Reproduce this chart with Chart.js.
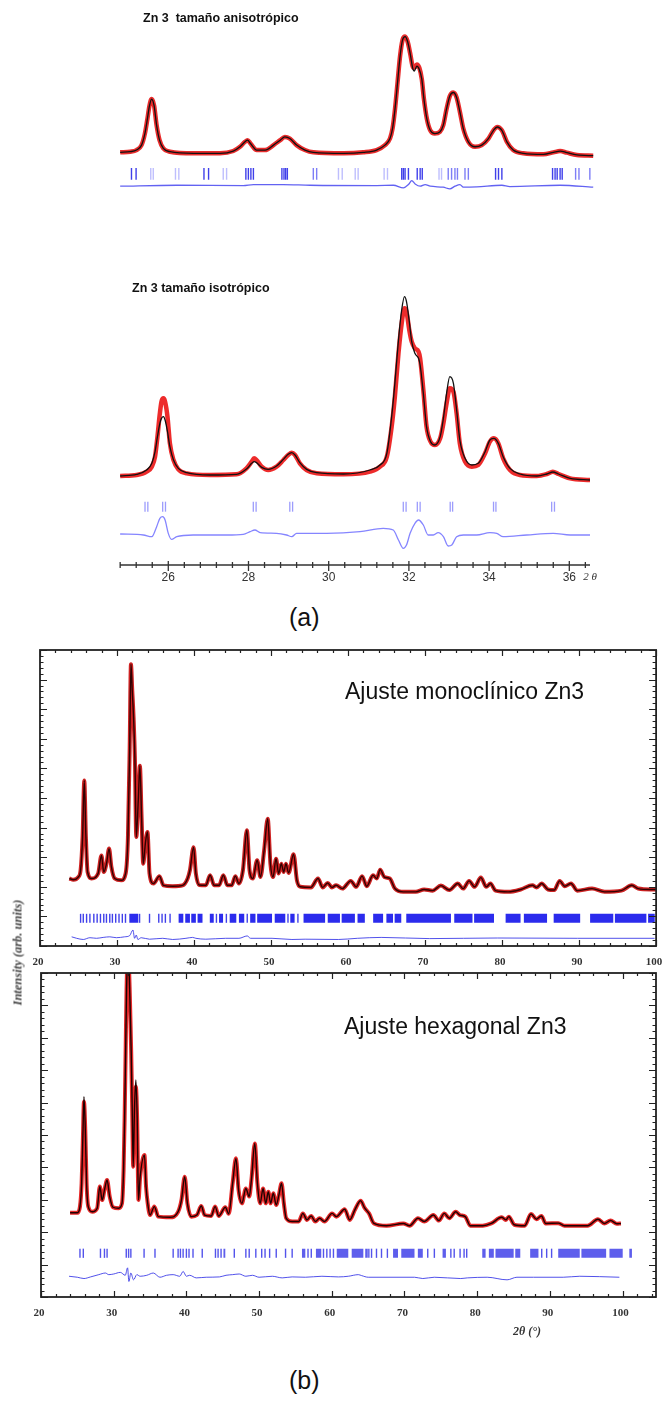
<!DOCTYPE html>
<html>
<head>
<meta charset="utf-8">
<script src="https://cdn.jsdelivr.net/npm/chart.js@4.4.1/dist/chart.umd.min.js"></script>
<style>
  body { margin: 0; background: #fff; }
  #wrap { position: relative; width: 662px; height: 1401px; background: #fff; overflow: hidden; }
  canvas { position: absolute; }
  .t { position: absolute; line-height: 1; white-space: pre; }
</style>
</head>
<body>
<div id="wrap">
  <canvas id="a1" style="left:110px;top:0px" width="500" height="200"></canvas>
  <canvas id="a2" style="left:110px;top:270px" width="500" height="325"></canvas>
  <canvas id="mono" style="left:0px;top:640px" width="662" height="335"></canvas>
  <canvas id="hex" style="left:0px;top:965px" width="662" height="385"></canvas>

  <div class="t" style="left:143px;top:11px;font:bold 12.5px 'Liberation Sans',Arial;color:#111">Zn 3  tamaño anisotrópico</div>
  <div class="t" style="left:132px;top:281px;font:bold 12.5px 'Liberation Sans',Arial;color:#111">Zn 3 tamaño isotrópico</div>
  <div class="t" style="left:289px;top:603px;font:25px 'Liberation Sans',Arial;color:#111">(a)</div>
  <div class="t" style="left:345px;top:678px;font:23px 'Liberation Sans',Arial;color:#111">Ajuste monoclínico Zn3</div>
  <div class="t" style="left:344px;top:1013px;font:23px 'Liberation Sans',Arial;color:#111">Ajuste hexagonal Zn3</div>
  <div class="t" style="left:513px;top:1324px;font:bold italic 12px 'Liberation Serif',serif;color:#333">2θ (°)</div>
  <div class="t" style="left:-47px;top:945px;width:130px;text-align:center;transform:rotate(-90deg);font:bold italic 12.5px 'Liberation Serif',serif;color:#444">Intensity (arb. units)</div>
  <div class="t" style="left:289px;top:1366px;font:25px 'Liberation Sans',Arial;color:#111">(b)</div>
</div>

<script>
// ---- (a) top: anisotropic size ----
const a1X = [25.11,25.35,25.50,25.62,25.70,25.76,25.81,25.86,25.92,25.98,26.05,26.14,26.30,26.86,27.49,27.81,27.97,28.09,28.15,28.22,
  28.37,28.57,28.77,28.93,29.04,29.16,29.32,29.52,29.72,30.44,30.91,31.23,31.43,31.55,31.61,31.67,31.73,31.79,31.85,31.91,
  31.97,32.03,32.09,32.13,32.19,32.25,32.31,32.36,32.43,32.51,32.62,32.74,32.82,32.90,32.98,33.06,33.14,33.22,33.30,33.42,
  33.58,33.74,33.90,34.02,34.11,34.22,34.34,34.49,34.73,35.21,35.45,35.61,35.77,36.01,36.40];
const a1Obs = [130,150,200,350,700,1150,1550,1750,1550,950,500,250,150,100,100,170,300,450,500,400,
  200,200,350,500,600,550,350,200,130,100,130,200,350,550,850,1450,2250,3050,3550,3650,
  3500,3150,2750,2700,2800,2700,2350,1750,1150,800,700,750,950,1450,1850,1950,1800,1350,850,450,
  300,350,550,800,900,800,450,200,100,70,130,170,120,50,30];
const a1Calc = [130,150,200,350,700,1150,1550,1750,1550,950,500,250,150,100,100,170,300,450,500,400,
  200,200,350,500,600,550,350,200,130,100,130,200,350,550,850,1450,2250,3050,3550,3650,
  3500,3150,2700,2600,2750,2650,2350,1750,1150,800,700,750,950,1450,1850,1950,1800,1350,850,450,
  300,350,550,800,900,800,450,200,100,70,130,170,120,50,30];
const a1DiffX = [25.11,26.46,28.05,28.29,29.00,29.64,31.23,31.63,31.87,31.99,32.07,32.15,32.27,32.39,32.51,32.82,32.98,33.10,33.22,33.30,
  33.62,34.22,34.41,35.61,36.40];
const a1Diff = [-900,-870,-880,-850,-850,-870,-880,-870,-950,-850,-730,-830,-900,-850,-900,-930,-980,-900,-850,-930,
  -920,-870,-910,-870,-930];
const a1TickDark = [25.38,25.49,27.11,27.22,28.11,28.17,28.23,28.29,28.97,29.02,29.06,29.10,31.83,31.87,31.91,31.99,32.20,32.27,32.32,
  34.07,34.14,34.22,35.43,35.49,35.54,35.61,35.66];
const a1TickMid = [29.72,29.80,32.94,33.02,33.10,33.16,33.34,33.42,35.98,36.06,36.32];
const a1TickLight = [25.84,25.90,26.43,26.51,27.57,27.65,30.32,30.41,30.72,30.79,31.41,31.49,32.72,32.78];

// ---- (a) bottom: isotropic size ----
const a2X = [24.80,25.21,25.46,25.59,25.67,25.73,25.79,25.83,25.88,25.92,25.98,26.04,26.13,26.25,26.46,27.04,27.70,27.95,28.08,28.14,
  28.20,28.33,28.49,28.70,28.87,28.99,29.08,29.16,29.28,29.45,29.70,30.37,31.03,31.28,31.45,31.57,31.65,31.74,31.82,31.89,
  31.94,32.01,32.07,32.15,32.24,32.28,32.36,32.44,32.54,32.65,32.78,32.86,32.94,33.02,33.11,33.19,33.27,33.40,33.57,33.73,
  33.90,34.02,34.12,34.23,34.35,34.52,34.77,35.19,35.44,35.59,35.73,36.02,36.52];
const a2Obs = [320,350,450,600,900,1500,2200,2550,2650,2550,2100,1300,800,520,400,350,370,550,750,850,
  800,600,500,600,800,950,1020,950,700,500,400,370,450,600,900,1800,2700,4000,4900,5350,
  5250,4700,4350,4150,4050,3850,2900,1800,1350,1250,1450,1900,2500,2950,2850,2200,1300,750,600,650,
  1000,1350,1450,1300,850,500,350,320,380,450,380,250,200];
const a2Calc = [320,370,500,700,1050,1500,1900,2050,2100,2000,1650,1200,800,550,420,350,370,530,700,750,
  720,580,520,620,820,970,1020,950,720,520,420,380,500,650,1000,2100,3100,4400,5300,5700,
  5550,4950,4350,4000,3850,3650,2800,1800,1350,1250,1500,2050,2800,3300,3100,2300,1400,850,650,700,
  1050,1400,1450,1300,900,550,380,320,380,440,380,250,200];
const a2DiffX = [24.80,25.38,25.59,25.71,25.79,25.86,25.92,26.00,26.08,26.21,26.62,27.46,27.87,28.04,28.16,28.29,28.70,28.95,29.08,29.20,
  29.95,30.78,31.36,31.61,31.74,31.86,31.94,32.03,32.15,32.24,32.36,32.48,32.61,32.73,32.86,32.98,33.07,33.19,33.36,33.69,
  34.02,34.19,34.35,34.94,35.60,36.02,36.52];
const a2Diff = [-1420,-1450,-1500,-1200,-950,-900,-1000,-1400,-1580,-1500,-1450,-1450,-1430,-1350,-1300,-1380,-1400,-1450,-1500,-1400,
  -1400,-1350,-1250,-1300,-1600,-1850,-1750,-1400,-1100,-1000,-1150,-1450,-1450,-1380,-1500,-1780,-1750,-1500,-1450,-1450,
  -1380,-1400,-1500,-1450,-1400,-1450,-1450];
const a2Ticks = [25.42,25.49,25.86,25.93,28.12,28.19,29.03,29.10,31.86,31.93,32.21,32.28,33.03,33.09,34.11,34.17,35.56,35.63];
const a2TickValues = [26, 28, 30, 32, 34, 36];
const a2TickLabels = ['26', '28', '30', '32', '34', '36'];

// ---- (b) monoclinic fit ----
const monoX = [23.81,24.33,24.97,25.27,25.53,25.75,25.96,26.18,26.69,27.55,27.98,28.28,28.63,28.97,29.27,29.70,30.56,31.12,31.42,31.64,
  31.81,31.98,32.15,32.33,32.50,32.76,32.97,33.19,33.40,33.70,33.96,34.22,34.74,35.51,36.03,37.23,38.52,39.17,39.47,39.94,
  40.24,40.67,41.53,42.09,42.61,43.25,43.81,44.33,44.89,45.36,45.83,46.35,46.86,47.21,47.64,48.20,48.63,49.10,49.57,49.92,
  50.26,50.65,50.99,51.34,51.64,51.94,52.28,52.93,53.36,53.82,55.18,56.10,56.70,57.36,57.90,58.45,59.26,60.35,61.06,61.82,
  62.43,63.24,63.73,64.17,64.71,65.42,66.08,67.16,68.80,69.88,70.98,72.06,73.15,74.25,74.95,75.72,76.43,77.24,77.95,78.49,
  79.15,80.79,82.42,83.94,84.49,85.14,85.96,86.77,87.48,88.13,88.95,89.77,91.68,93.31,95.49,96.85,97.67,99.30,100.0];
const monoI = [2.28,2.24,2.33,2.56,3.68,5.59,3.68,2.50,2.28,2.45,3.06,2.50,2.78,3.29,2.67,2.28,2.22,2.45,3.68,6.60,
  9.52,8.62,7.72,6.26,3.68,4.92,6.09,4.35,2.78,3.51,3.85,2.45,2.11,2.36,2.05,2.02,2.05,2.28,2.56,3.34,
  2.45,2.06,2.05,2.39,2.05,2.05,2.39,2.05,2.05,2.36,2.11,2.56,3.91,2.56,2.28,2.90,2.33,3.23,4.30,2.78,
  2.33,2.95,2.45,2.78,2.50,2.78,2.47,3.10,2.22,2.00,1.98,2.28,1.98,2.13,1.98,2.05,1.94,2.20,2.00,2.36,
  2.02,2.39,2.28,2.58,2.33,2.28,1.94,1.83,1.83,1.91,1.87,2.04,1.89,2.11,1.94,2.20,2.00,2.31,2.00,2.11,
  1.87,1.83,1.91,2.05,1.98,2.11,1.91,1.89,2.20,2.02,2.11,1.87,1.94,1.83,1.87,2.05,1.94,1.91,1.91];
const monoDiffX = [24.11,24.76,25.62,26.48,27.34,28.20,29.06,29.92,30.99,31.64,32.07,32.28,32.50,32.71,33.14,34.22,35.94,37.23,38.95,39.81,
  40.24,41.53,44.11,45.83,46.91,47.34,50.13,52.71,54.43,58.74,61.2,64.3,70.6,79.4,89.8,99.8];
const monoDiff = [0.31,0.26,0.22,0.28,0.26,0.29,0.31,0.28,0.31,0.35,0.54,0.26,0.37,0.22,0.28,0.23,0.26,0.22,0.26,0.29,
  0.26,0.23,0.26,0.26,0.34,0.26,0.26,0.22,0.23,0.22,0.26,0.29,0.25,0.27,0.26,0.26];
const monoTicks = [25.27,25.62,26.05,26.48,26.99,27.42,27.85,28.28,28.63,29.06,29.40,29.83,30.26,30.69,31.10,32.93,34.22,
  35.42,35.85,36.28,36.89,42.91,44.20,46.91,52.20,53.49];
const monoBlockStart = [31.6,38.0,38.86,39.64,40.46,42.05,43.25,44.63,45.83,47.29,48.20,50.48,52.50,54.22,57.36,59.17,61.23,63.26,64.98,66.05,
  67.56,73.79,76.37,80.46,82.83,86.70,91.43,94.65,98.96];
const monoBlockEnd = [32.76,38.61,39.47,40.24,41.10,42.56,43.77,45.49,46.52,47.98,50.13,51.85,53.06,57.02,58.95,60.89,62.18,64.55,65.84,66.91,
  73.36,76.16,78.95,82.40,85.84,90.14,94.44,98.74,99.82];

// ---- (b) hexagonal fit ----
const hexX = [24.0,25.0,25.36,25.59,25.77,25.91,26.09,26.27,26.5,27.05,27.73,28.09,28.41,28.73,29.09,29.45,29.91,30.68,31.14,31.36,
  31.5,31.64,31.77,31.91,32.09,32.27,32.41,32.55,32.68,32.86,33.05,33.23,33.41,33.64,34.23,34.45,34.68,35.0,35.59,36.14,
  37.73,38.86,39.32,39.77,40.14,40.68,41.45,42.05,42.5,43.41,43.95,44.45,45.36,45.82,46.36,46.82,47.18,47.64,48.18,48.64,
  48.95,49.41,49.77,50.14,50.55,50.91,51.27,51.59,51.95,52.36,52.73,53.09,53.41,53.73,54.55,55.45,56.02,56.59,57.16,57.74,
  58.32,59.0,60.04,60.63,61.77,62.47,63.22,63.96,64.54,65.12,65.81,67.53,69.84,70.70,71.86,72.71,73.98,74.73,75.48,76.17,
  77.04,77.61,78.36,79.06,80.78,81.94,83.37,83.94,84.35,85.1,86.53,87.41,88.16,88.84,89.43,91.15,92.01,95.18,96.62,97.49,
  98.35,99.21,99.78];
const hexObs = [2.60,2.60,2.79,3.51,4.95,6.03,5.15,3.51,2.79,2.63,2.74,3.41,2.99,3.30,3.61,3.10,2.77,2.74,2.89,3.92,
  5.46,7.52,9.48,10.4,10.2,8.86,7.52,5.77,4.02,5.67,6.49,5.46,2.99,3.71,4.38,3.41,2.89,2.53,2.79,2.48,
  2.46,2.63,2.99,3.71,2.89,2.48,2.53,2.81,2.53,2.50,2.79,2.50,2.77,2.57,3.51,4.28,3.30,2.89,3.35,3.10,
  3.62,4.74,3.51,2.89,3.35,2.89,3.25,2.89,3.20,2.84,3.15,3.51,2.89,2.43,2.33,2.33,2.58,2.38,2.50,2.33,
  2.43,2.33,2.58,2.48,2.71,2.38,2.71,2.97,2.74,2.58,2.27,2.20,2.27,2.20,2.43,2.33,2.53,2.36,2.58,2.43,
  2.63,2.53,2.48,2.20,2.20,2.27,2.46,2.38,2.48,2.23,2.20,2.56,2.40,2.50,2.27,2.28,2.20,2.20,2.40,2.27,
  2.36,2.26,2.27];
const hexCalc = [2.60,2.60,2.79,3.51,5.05,6.18,5.20,3.51,2.79,2.63,2.74,3.41,2.99,3.30,3.61,3.10,2.77,2.74,2.89,3.92,
  5.46,7.52,9.48,10.4,10.2,8.86,7.52,5.77,4.02,5.80,6.70,5.55,2.99,3.71,4.38,3.41,2.89,2.53,2.79,2.48,
  2.46,2.63,2.99,3.71,2.89,2.48,2.53,2.81,2.53,2.50,2.79,2.50,2.77,2.57,3.51,4.28,3.30,2.89,3.35,3.10,
  3.62,4.74,3.51,2.89,3.35,2.89,3.25,2.89,3.20,2.84,3.15,3.51,2.89,2.43,2.33,2.33,2.58,2.38,2.50,2.33,
  2.43,2.33,2.58,2.48,2.71,2.38,2.71,2.97,2.74,2.58,2.27,2.20,2.27,2.20,2.43,2.33,2.53,2.36,2.58,2.43,
  2.63,2.53,2.48,2.20,2.20,2.27,2.46,2.38,2.48,2.23,2.20,2.56,2.40,2.50,2.27,2.28,2.20,2.20,2.40,2.27,
  2.36,2.26,2.27];
const hexDiffX = [23.86,25.0,25.91,26.82,27.95,28.86,29.32,30.0,30.91,31.59,31.91,32.09,32.36,32.73,33.18,33.64,34.55,35.45,36.36,37.27,
  38.18,39.09,39.55,40.0,40.45,41.36,42.73,44.55,45.45,46.36,47.27,48.18,49.09,50.0,51.82,53.18,54.55,56.36,58.64,60.91,
  62.27,63.65,64.11,65.02,71.38,72.52,74.11,77.74,78.65,81.38,84.11,85.47,87.74,91.84,94.11,99.56];
const hexDiff = [0.64,0.61,0.57,0.62,0.69,0.74,0.69,0.71,0.76,0.67,0.90,0.48,0.74,0.53,0.69,0.64,0.67,0.74,0.61,0.67,
  0.69,0.64,0.79,0.64,0.67,0.59,0.61,0.62,0.67,0.69,0.71,0.64,0.67,0.61,0.64,0.59,0.62,0.61,0.64,0.62,
  0.64,0.69,0.66,0.61,0.61,0.57,0.61,0.57,0.59,0.61,0.53,0.61,0.61,0.61,0.64,0.61];
const hexTicks = [25.36,25.82,28.18,28.73,29.09,31.73,32.05,32.36,34.18,35.68,38.18,38.86,39.18,39.55,40.0,40.36,40.91,42.18,44.0,44.36,
  44.77,46.59,48.18,48.64,49.55,50.36,50.82,51.45,52.36,53.64,54.55,56.73,57.18,58.86,59.32,59.77,60.23,65.1,65.47,66.15,
  66.84,67.65,73.2,74.11,76.38,76.84,77.65,78.2,78.56,88.88,89.56,90.24];
const hexBlockStart = [45.1,55.9,57.82,60.68,62.74,64.6,68.43,69.56,71.84,75.24,80.7,81.61,82.52,85.24,87.29,91.15,94.34,98.2,100.93];
const hexBlockEnd = [45.35,56.36,58.55,62.27,64.34,64.95,69.11,71.38,72.52,75.7,81.16,82.29,85.02,85.93,88.43,94.11,97.74,100.02,101.29];

const bTickValues = [20, 30, 40, 50, 60, 70, 80, 90, 100];
const bTickLabels = ['20', '30', '40', '50', '60', '70', '80', '90', '100'];

// ---- helpers ----
const pts = (xs, ys) => xs.map((x, i) => ({ x, y: ys[i] }));
const row = (xs, y) => xs.map(x => ({ x, y }));
const blockPts = (s, e, y) => s.flatMap((v, i) => [{ x: v, y }, { x: e[i], y }, { x: e[i], y: null }]);

function curve(data, color, width) {
  return { data, borderColor: color, borderWidth: width, pointRadius: 0, cubicInterpolationMode: 'monotone', fill: false };
}
function ticks(data, color, r, w) {
  return { data, showLine: false, pointStyle: 'line', rotation: 90, pointRadius: r,
    pointBorderColor: color, pointBorderWidth: w, borderColor: color, borderWidth: w };
}
function blocks(data, color, h) {
  return { data, borderColor: color, borderWidth: h, pointRadius: 0, spanGaps: false, borderCapStyle: 'butt' };
}

// frame / axis decoration drawn through the chart scales
const decor = {
  id: 'decor',
  afterDraw(chart, args, o) {
    const { ctx, chartArea: a, scales: { x, y } } = chart;
    ctx.save();
    if (o.axis) {
      const ax = o.axis;
      const yb = a.bottom;
      ctx.strokeStyle = '#333';
      ctx.lineWidth = 1.3;
      ctx.beginPath();
      ctx.moveTo(a.left, yb); ctx.lineTo(a.right, yb);
      for (let v = ax.minorStart; v <= x.max + 1e-6; v += ax.minorStep) {
        const px = x.getPixelForValue(v);
        ctx.moveTo(px, yb - 3); ctx.lineTo(px, yb + 3);
      }
      ax.values.forEach(v => {
        const px = x.getPixelForValue(v);
        ctx.moveTo(px, yb - 4); ctx.lineTo(px, yb + 6);
      });
      ctx.stroke();
      ctx.fillStyle = '#333';
      ctx.font = '12px "Liberation Sans", Arial';
      ctx.textAlign = 'center';
      ctx.textBaseline = 'middle';
      ax.values.forEach((v, i) => ctx.fillText(ax.labels[i], x.getPixelForValue(v), yb + 13));
      ctx.font = 'italic 11px "Liberation Serif", serif';
      ctx.fillText('2 θ', a.right, yb + 12);
    }
    if (o.frame) {
      const f = o.frame;
      ctx.strokeStyle = '#222';
      ctx.lineWidth = 1.2;
      ctx.beginPath();
      for (let v = x.min; v <= x.max; v += f.xMinor) {
        const px = Math.round(x.getPixelForValue(v)) + 0.5;
        const len = Math.abs(v % 10) < 1e-6 ? 6 : 3;
        ctx.moveTo(px, a.top); ctx.lineTo(px, a.top + len);
        ctx.moveTo(px, a.bottom); ctx.lineTo(px, a.bottom - len);
      }
      for (let v = y.min; v <= y.max + 1e-6; v += f.yMinor) {
        const py = Math.round(y.getPixelForValue(v)) + 0.5;
        const len = Math.abs(v - Math.round(v)) < 1e-6 ? 7 : 3.5;
        ctx.moveTo(a.left, py); ctx.lineTo(a.left + len, py);
        ctx.moveTo(a.right, py); ctx.lineTo(a.right - len, py);
      }
      ctx.stroke();
      ctx.lineWidth = 1.8;
      ctx.strokeRect(a.left, a.top, a.right - a.left, a.bottom - a.top);
      ctx.fillStyle = '#333';
      ctx.font = 'bold 11px "Liberation Serif", serif';
      ctx.textAlign = 'center';
      ctx.textBaseline = 'middle';
      f.values.forEach((v, i) => ctx.fillText(f.labels[i], x.getPixelForValue(v) - 2, a.bottom + 16));
    }
    ctx.restore();
  }
};

function makeChart(id, datasets, padding, xr, yr, decorOpts) {
  return new Chart(document.getElementById(id), {
    type: 'line',
    data: { datasets },
    options: {
      responsive: false,
      animation: false,
      events: [],
      layout: { padding },
      plugins: { legend: { display: false }, tooltip: { enabled: false }, decor: decorOpts },
      scales: {
        x: { type: 'linear', display: false, min: xr[0], max: xr[1] },
        y: { type: 'linear', display: false, min: yr[0], max: yr[1] },
      },
    },
    plugins: [decor],
  });
}

// (a) anisotropic
makeChart('a1', [
  curve(pts(a1X, a1Calc), '#111', 1.3),
  curve(pts(a1X, a1Obs), 'rgba(230,20,20,0.9)', 4.5),
  curve(pts(a1DiffX, a1Diff), 'rgba(70,70,240,0.85)', 1.3),
  ticks(row(a1TickDark, -525), 'rgba(30,30,230,0.85)', 5.8, 1.4),
  ticks(row(a1TickMid, -525), 'rgba(40,40,240,0.6)', 5.8, 1.4),
  ticks(row(a1TickLight, -525), 'rgba(70,70,250,0.35)', 5.8, 1.4),
], { left: 10, right: 16, top: 30, bottom: 5 }, [25.106, 36.419], [-1100, 3850], {});

// (a) isotropic
makeChart('a2', [
  curve(pts(a2X, a2Calc), '#111', 1.3),
  curve(pts(a2X, a2Obs), 'rgba(235,20,20,0.9)', 4.5),
  curve(pts(a2DiffX, a2Diff), 'rgba(120,120,255,0.9)', 1.3),
  ticks(row(a2Ticks, -600), 'rgba(90,90,250,0.6)', 5, 1.3),
], { left: 10, right: 20, top: 20, bottom: 30 }, [24.796, 36.516], [-2350, 5900],
  { axis: { values: a2TickValues, labels: a2TickLabels, minorStart: 24.8, minorStep: 0.4 } });

// (b) monoclinic
makeChart('mono', [
  curve(pts(monoX, monoI), 'rgba(40,0,0,0.95)', 1.4),
  curve(pts(monoX, monoI), 'rgba(200,10,10,0.9)', 4),
  curve(pts(monoDiffX, monoDiff), 'rgba(50,50,230,0.85)', 1),
  ticks(row(monoTicks, 0.935), 'rgba(30,30,230,0.85)', 4.5, 1.4),
  blocks(blockPts(monoBlockStart, monoBlockEnd, 0.935), 'rgba(20,20,235,0.9)', 9),
], { left: 40, right: 2, top: 10, bottom: 29 }, [20, 100], [0, 10],
  { frame: { values: bTickValues, labels: bTickLabels, xMinor: 2, yMinor: 0.2 } });

// (b) hexagonal
makeChart('hex', [
  curve(pts(hexX, hexCalc), 'rgba(20,0,0,0.95)', 1.4),
  curve(pts(hexX, hexObs), 'rgba(225,15,15,0.9)', 4),
  curve(pts(hexDiffX, hexDiff), 'rgba(50,50,230,0.85)', 1),
  ticks(row(hexTicks, 1.35), 'rgba(40,40,230,0.8)', 4.6, 1.4),
  blocks(blockPts(hexBlockStart, hexBlockEnd, 1.35), 'rgba(40,40,230,0.75)', 9),
], { left: 41, right: 2, top: 8, bottom: 53 }, [20, 104.6], [0, 10],
  { frame: { values: bTickValues, labels: bTickLabels, xMinor: 2, yMinor: 0.2 } });
</script>
</body>
</html>
